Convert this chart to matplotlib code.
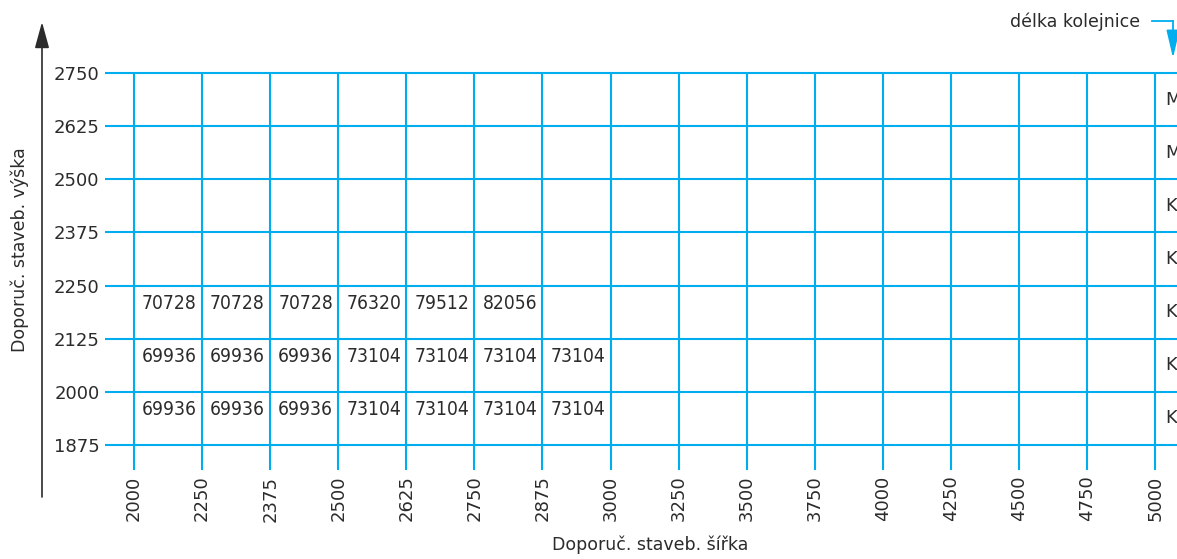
import matplotlib
matplotlib.use("Agg")
import matplotlib.pyplot as plt
from matplotlib import font_manager

# tabulka delek kolejnic - doporucene stavebni rozmery
sirky = [2000, 2250, 2375, 2500, 2625, 2750, 2875, 3000, 3250, 3500,
         3750, 4000, 4250, 4500, 4750, 5000]
vysky = [1875, 2000, 2125, 2250, 2375, 2500, 2625, 2750]

# hodnoty v bunkach (radek pod danou vyskou, sloupce od sirky 2000)
radek_2250 = [70728, 70728, 70728, 76320, 79512, 82056]
radek_2125 = [69936, 69936, 69936, 73104, 73104, 73104, 73104]
radek_2000 = [69936, 69936, 69936, 73104, 73104, 73104, 73104]
radky = {2250: radek_2250, 2125: radek_2125, 2000: radek_2000}

# pravy sloupec (oriznuty), odshora dolu
pravy_sloupec = ["M", "M", "K", "K", "K", "K", "K"]

modra = "#00AEEF"
seda = "#2b2b2b"

nazvy = {f.name for f in font_manager.fontManager.ttflist}
if "Liberation Sans Narrow" in nazvy:
    bunka_font = dict(family="Liberation Sans Narrow", size=15.5)
else:
    bunka_font = dict(family="DejaVu Sans", stretch="condensed", size=13.8)

W, H = 1177, 559
fig = plt.figure(figsize=(W / 100, H / 100), dpi=100)

# hlavni mrizka
ax = fig.add_axes([105 / W, 89 / H, 1 - 105 / W, 397 / H])
x0, x1 = -0.426, 15.32
y0, y1 = -0.47, 7
ax.set_xlim(x0, x1)
ax.set_ylim(y0, y1)
for s in ax.spines.values():
    s.set_visible(False)

ax.hlines(range(len(vysky)), x0, x1, color=modra, lw=1.5, clip_on=False)
ax.vlines(range(len(sirky)), y0, y1, color=modra, lw=1.5, clip_on=False)

ax.set_xticks(range(len(sirky)))
ax.set_xticklabels([str(s) for s in sirky], rotation=90, fontsize=13, color=seda)
ax.set_yticks(range(len(vysky)))
ax.set_yticklabels([str(v) for v in vysky], fontsize=13, color=seda)
ax.tick_params(length=0, pad=4)

for v, hodnoty in radky.items():
    j = vysky.index(v)
    for i, h in enumerate(hodnoty):
        ax.text(i + 0.52, j - 0.33, str(h), ha="center", va="center",
                color=seda, **bunka_font)

for k, lab in enumerate(pravy_sloupec):
    j = len(vysky) - 1 - k
    ax.text(len(sirky) - 1 + 0.15, j - 0.5, lab, ha="left", va="center",
            fontsize=13, color=seda, clip_on=False)

# popisky os
fig.text(650 / W, 1 - 545 / H, "Doporuč. staveb. šířka", ha="center",
         va="center", fontsize=12.5, color=seda)
fig.text(20 / W, 1 - 250 / H, "Doporuč. staveb. výška", ha="center",
         va="center", rotation=90, fontsize=12.5, color=seda)

# sipka svisle osy
ax.annotate("", xy=(42, H - 22), xytext=(42, H - 497),
            xycoords="figure pixels", textcoords="figure pixels",
            arrowprops=dict(arrowstyle="-|>,head_length=0.8,head_width=0.22",
                            mutation_scale=20, lw=1.2, color=seda,
                            shrinkA=0, shrinkB=0))

# delka kolejnice
fig.text(1140 / W, 1 - 22 / H, "délka kolejnice", ha="right", va="center",
         fontsize=12.5, color=seda)
fig.add_artist(plt.Line2D([1152 / W, 1173 / W], [1 - 21 / H, 1 - 21 / H],
                          color=modra, lw=1.3))
ax.annotate("", xy=(1173, H - 58), xytext=(1173, H - 21),
            xycoords="figure pixels", textcoords="figure pixels",
            arrowprops=dict(arrowstyle="-|>,head_length=0.85,head_width=0.2",
                            mutation_scale=20, lw=1.3, color=modra,
                            shrinkA=0, shrinkB=0))

fig.savefig("out.png", dpi=100)
